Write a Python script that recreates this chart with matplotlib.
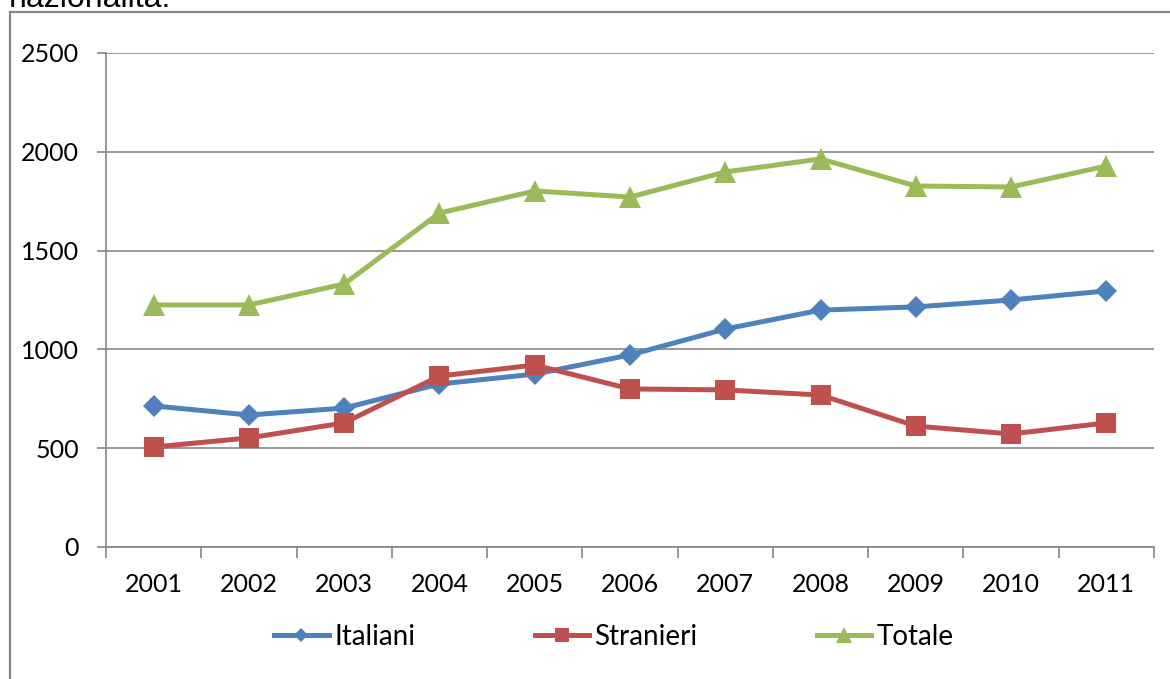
#!/usr/bin/env python3
"""Line chart: Italiani / Stranieri / Totale, 2001-2011."""

import matplotlib
matplotlib.use("Agg")
import matplotlib.pyplot as plt
from matplotlib.lines import Line2D

YEARS = ["2001", "2002", "2003", "2004", "2005", "2006",
         "2007", "2008", "2009", "2010", "2011"]
ITALIANI = [714, 668, 703, 825, 875, 972, 1103, 1199, 1215, 1250, 1296]
STRANIERI = [506, 552, 628, 865, 921, 800, 795, 769, 612, 572, 628]
TOTALE = [1225, 1225, 1331, 1690, 1802, 1771, 1898, 1964, 1827, 1822, 1928]
Y_TICKS = [0, 500, 1000, 1500, 2000, 2500]

GRID = "#868686"
W, H = 1170, 679


def main() -> None:
    plt.rcParams.update({"font.family": ["Lato", "DejaVu Sans"], "font.size": 18})

    fig = plt.figure(figsize=(W / 100, H / 100), dpi=100)
    ax = fig.add_axes([106 / W, 1 - 547 / H, (1154 - 106) / W, (547 - 53) / H])

    x = list(range(len(YEARS)))
    # label, values, colour, marker, plot size, legend size
    series = [
        ("Italiani", ITALIANI, "#4F81BD", "D", 11, 7.5),
        ("Stranieri", STRANIERI, "#C0504D", "s", 15, 10.5),
        ("Totale", TOTALE, "#9BBB59", "^", 16, 11),
    ]
    handles = []
    for label, vals, color, mk, ms, lms in series:
        ax.plot(x, vals, color=color, lw=3.6, marker=mk, ms=ms,
                markeredgewidth=0, zorder=3)
        handles.append(Line2D([], [], color=color, lw=3.6, marker=mk, ms=lms,
                              markeredgewidth=0, label=label))

    ax.set_xlim(-0.5, len(YEARS) - 0.5)
    ax.set_ylim(0, 2500)
    ax.set_yticks(Y_TICKS)
    ax.set_xticks(x)
    ax.set_xticklabels(YEARS)
    ax.set_xticks([i - 0.5 for i in range(len(YEARS) + 1)], minor=True)

    ax.grid(axis="y", color=GRID, lw=1.2)
    ax.set_axisbelow(True)
    for side in ("top", "right"):
        ax.spines[side].set_visible(False)
    for side in ("left", "bottom"):
        ax.spines[side].set_color(GRID)
        ax.spines[side].set_linewidth(1.2)

    ax.tick_params(axis="y", length=6.5, width=1.2, color=GRID, pad=13, labelsize=18)
    ax.tick_params(axis="x", which="major", length=0, pad=19, labelsize=18)
    ax.tick_params(axis="x", which="minor", length=8, width=1.2, color=GRID,
                   direction="out")

    fig.legend(handles=handles, loc="center", bbox_to_anchor=(614 / W, 1 - 637 / H),
               ncol=3, frameon=False, fontsize=20, handlelength=1.95,
               handletextpad=0.2, columnspacing=4.3)

    # outer frame of the embedded chart
    fig.add_artist(Line2D([10 / W, 1.0], [1 - 12 / H] * 2, transform=fig.transFigure,
                          color="#878787", lw=1.6))
    fig.add_artist(Line2D([10 / W] * 2, [0.0, 1 - 12 / H], transform=fig.transFigure,
                          color="#878787", lw=1.6))

    # caption text, partly cut off by the crop as in the source
    fig.text(9 / W, 1 - 7 / H, "nazionalità.", ha="left", va="baseline",
             fontsize=23, family=["Liberation Sans", "DejaVu Sans"])

    fig.savefig("out.png", dpi=100)
    plt.close(fig)


if __name__ == "__main__":
    main()
